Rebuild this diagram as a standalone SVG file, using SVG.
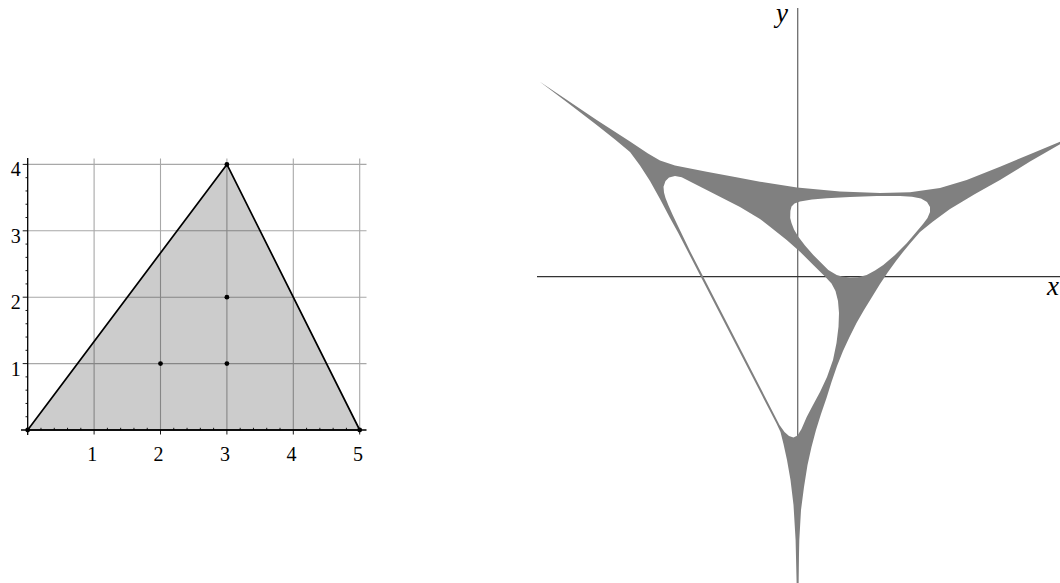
<svg xmlns="http://www.w3.org/2000/svg" width="1060" height="583" viewBox="0 0 1060 583">
<style>
.grid{stroke:#a8a8a8;stroke-width:1.1;fill:none}
.ax{stroke:#000;stroke-width:1.3;fill:none}
.tk{stroke:#000;stroke-width:0.9;fill:none}
.lbl{font-family:"Liberation Serif","DejaVu Serif",serif;font-size:20px;fill:#000}
.var{font-family:"Liberation Serif","DejaVu Serif",serif;font-style:italic;font-size:27px;fill:#000}
</style>
<rect width="1060" height="583" fill="#fff"/>
<g id="newton-polygon">
<path class="grid" d="M94.1,158.5V430M160.5,158.5V430M226.9,158.5V430M293.3,158.5V430M359.7,158.5V430M27.7,363.6H366.5M27.7,297.2H366.5M27.7,230.8H366.5M27.7,164.4H366.5"/>
<path d="M27.7,430L226.9,164.4L359.7,430Z" fill="#000" fill-opacity="0.2" stroke="#000" stroke-width="1.7" stroke-linejoin="round"/>
<path class="ax" d="M21,430H366.5M27.7,158V435"/>
<path class="tk" d="M94.1,430v4.5M160.5,430v4.5M226.9,430v4.5M293.3,430v4.5M359.7,430v4.5M27.7,363.6h-5M27.7,297.2h-5M27.7,230.8h-5M27.7,164.4h-5"/>
<path class="tk" d="M40.98,430v-2.2M54.26,430v-2.2M67.54,430v-2.2M80.82,430v-2.2M107.38,430v-2.2M120.66,430v-2.2M133.94,430v-2.2M147.22,430v-2.2M173.78,430v-2.2M187.06,430v-2.2M200.34,430v-2.2M213.62,430v-2.2M240.18,430v-2.2M253.46,430v-2.2M266.74,430v-2.2M280.02,430v-2.2M306.58,430v-2.2M319.86,430v-2.2M333.14,430v-2.2M346.42,430v-2.2M27.7,416.72h-2.2M27.7,403.44h-2.2M27.7,390.16h-2.2M27.7,376.88h-2.2M27.7,350.32h-2.2M27.7,337.04h-2.2M27.7,323.76h-2.2M27.7,310.48h-2.2M27.7,283.92h-2.2M27.7,270.64h-2.2M27.7,257.36h-2.2M27.7,244.08h-2.2M27.7,217.52h-2.2M27.7,204.24h-2.2M27.7,190.96h-2.2M27.7,177.68h-2.2"/>
<g fill="#000">
<circle cx="27.7" cy="430" r="2.4"/>
<circle cx="226.9" cy="164.4" r="2.4"/>
<circle cx="359.7" cy="430" r="2.4"/>
<circle cx="160.5" cy="363.6" r="2.4"/>
<circle cx="226.9" cy="363.6" r="2.4"/>
<circle cx="226.9" cy="297.2" r="2.4"/>
</g>
<g class="lbl" text-anchor="middle">
<text x="92.3" y="460.5">1</text>
<text x="158.5" y="460.5">2</text>
<text x="225" y="460.5">3</text>
<text x="291.5" y="460.5">4</text>
<text x="358" y="460.5">5</text>
</g>
<g class="lbl" text-anchor="end">
<text x="20.8" y="375.5">1</text>
<text x="20.8" y="309.1">2</text>
<text x="20.8" y="242.7">3</text>
<text x="20.8" y="176.3">4</text>
</g>
</g>
<g id="amoeba-plot">
<path d="M797.7,8V583" stroke="#6e6e6e" stroke-width="1.3" fill="none"/>
<path d="M537,276.6H1060" stroke="#333" stroke-width="1.3" fill="none"/>
<path id="amoeba" fill="#808080" fill-rule="evenodd" d="M539.5,81.6L570,102L596.7,120L630,141.5L648,153.5L660,160.5L675,165.5L706.7,171.7L735,177L760,181.7L797,187.5L840,191.5L880,193L910,192.3L940,188L966.7,180L1000,166.7L1030,154.2L1063,140.5L1063,142.5L1030,161.5L1000,180L975,194L950,209L933,221.5L920,232L910,243.5L903,252L896,261L888,272L880,284L872,297L864,310L856.5,323L849.5,337L843,351L837,366L831.5,382L826.5,398L821,414L816,430L811.5,447L807.5,465L804,487L801,510L799.3,540L798.4,583L796.6,583L795.6,540L793.5,505L790.5,480L787,460L783.5,444L780.5,432L776.5,423.5L686,248L678,232.5L670,218L660,199L650,181L640,165.5L630,152L615,139.5L596.7,125L570,104.5Z
M663.5,186.7L665.5,181L669,177.5L675,176L681.7,177.3L690,181.5L706.7,190L740,207L760,219L770,226.7L786.7,240L800,251.7L813.3,265L825,276.5L831.5,283.5L835.5,291L838,301L839,313L838.5,326.7L836.5,343L833,360L827,377L820,392L813,405L806.7,417L801.5,429L797.5,435.5L793.5,437.5L789,436L784.5,432L779.5,425L690,251L677,224L672.5,214.5L668.5,205.5L665.5,198L664,192.5Z
M790.2,218L790.4,211L791.5,206.5L794.5,203.5L800,201.5L812,199.5L826.7,198.2L850,197L876.7,196L900,196L912,196.8L921,198.5L927,202L930,207L930,212L927.5,218L923,224L915,233.5L906.7,243.3L895,255L883.3,265L875,270.5L866.7,275L858,277.2L850,277.5L842,276.5L836.7,275L828.3,270L813.3,255L805,245.5L798.3,236.7L794,229.5L791.5,223Z"/>
<text class="var" x="776" y="22">y</text>
<text class="var" x="1047" y="295">x</text>
</g>
</svg>
